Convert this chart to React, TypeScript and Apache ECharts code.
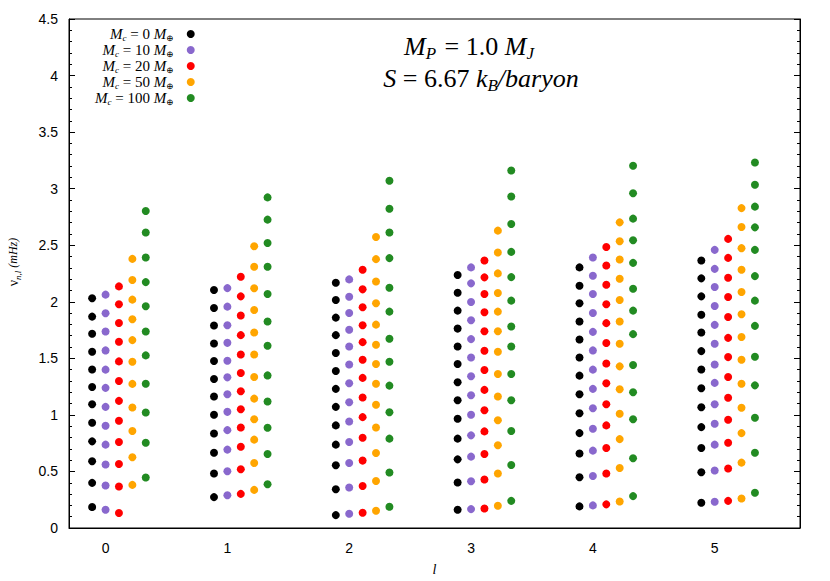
import React, { useEffect, useRef } from 'react';
import * as echarts from 'echarts';

// Angular degree l (x categories)
const L_VALUES = [0, 1, 2, 3, 4, 5];
// Core masses (Earth masses) for each series
const CORE_MASSES = [0, 10, 20, 50, 100];
const SERIES_COLORS = ['#000000', '#8968cd', '#ff0000', '#ffa500', '#228b22'];
// horizontal offset of each series around its l value
const X_OFFSETS = [-0.11, 0, 0.11, 0.22, 0.33];

// Frequencies nu_{n,l} (mHz), one list per l
const mc0 = [
  [2.031, 1.869, 1.717, 1.558, 1.402, 1.247, 1.094, 0.93, 0.766, 0.59, 0.399, 0.185],
  [2.104, 1.945, 1.79, 1.631, 1.476, 1.318, 1.162, 1.001, 0.836, 0.666, 0.482, 0.273],
  [2.168, 2.016, 1.86, 1.705, 1.547, 1.388, 1.23, 1.071, 0.907, 0.737, 0.555, 0.343, 0.114],
  [2.236, 2.08, 1.922, 1.763, 1.605, 1.45, 1.288, 1.129, 0.966, 0.79, 0.607, 0.402, 0.161],
  [2.304, 2.142, 1.987, 1.825, 1.666, 1.508, 1.347, 1.182, 1.015, 0.839, 0.658, 0.449, 0.191],
  [2.365, 2.207, 2.048, 1.886, 1.728, 1.564, 1.402, 1.235, 1.068, 0.892, 0.707, 0.493, 0.223],
];
const mc10 = [
  [2.063, 1.899, 1.737, 1.57, 1.4, 1.239, 1.071, 0.904, 0.737, 0.561, 0.376, 0.161],
  [2.121, 1.957, 1.793, 1.637, 1.479, 1.332, 1.182, 1.027, 0.865, 0.693, 0.502, 0.29],
  [2.198, 2.045, 1.901, 1.752, 1.605, 1.446, 1.279, 1.112, 0.942, 0.76, 0.575, 0.358, 0.126],
  [2.304, 2.163, 1.998, 1.837, 1.67, 1.508, 1.341, 1.173, 1.001, 0.819, 0.631, 0.414, 0.167],
  [2.392, 2.23, 2.069, 1.901, 1.734, 1.57, 1.4, 1.23, 1.059, 0.878, 0.684, 0.46, 0.2],
  [2.459, 2.291, 2.13, 1.963, 1.796, 1.629, 1.446, 1.283, 1.094, 0.922, 0.737, 0.508, 0.232],
];
const mc20 = [
  [2.136, 1.978, 1.813, 1.646, 1.473, 1.3, 1.124, 0.948, 0.76, 0.566, 0.367, 0.132],
  [2.221, 2.048, 1.878, 1.705, 1.534, 1.371, 1.209, 1.05, 0.889, 0.719, 0.519, 0.302],
  [2.283, 2.11, 1.952, 1.793, 1.643, 1.488, 1.327, 1.153, 0.98, 0.798, 0.596, 0.372, 0.135],
  [2.365, 2.216, 2.069, 1.908, 1.74, 1.567, 1.397, 1.221, 1.041, 0.854, 0.654, 0.429, 0.173],
  [2.485, 2.321, 2.151, 1.978, 1.811, 1.635, 1.455, 1.279, 1.094, 0.907, 0.707, 0.482, 0.209],
  [2.556, 2.388, 2.212, 2.042, 1.866, 1.681, 1.511, 1.335, 1.151, 0.957, 0.754, 0.526, 0.24],
];
const mc50 = [
  [2.379, 2.192, 2.019, 1.846, 1.661, 1.47, 1.274, 1.065, 0.857, 0.625, 0.381],
  [2.491, 2.309, 2.119, 1.928, 1.728, 1.534, 1.335, 1.144, 0.962, 0.781, 0.575, 0.337],
  [2.573, 2.377, 2.18, 1.987, 1.798, 1.62, 1.45, 1.276, 1.089, 0.889, 0.663, 0.416, 0.152],
  [2.629, 2.436, 2.251, 2.077, 1.913, 1.74, 1.558, 1.362, 1.162, 0.953, 0.731, 0.482, 0.196],
  [2.702, 2.535, 2.374, 2.203, 2.016, 1.825, 1.629, 1.429, 1.226, 1.01, 0.786, 0.531, 0.235],
  [2.828, 2.661, 2.474, 2.283, 2.086, 1.89, 1.688, 1.488, 1.276, 1.063, 0.839, 0.578, 0.261],
];
const mc100 = [
  [2.802, 2.612, 2.392, 2.174, 1.96, 1.737, 1.526, 1.276, 1.021, 0.754, 0.446],
  [2.923, 2.726, 2.52, 2.309, 2.069, 1.825, 1.611, 1.349, 1.118, 0.886, 0.654, 0.387],
  [3.07, 2.823, 2.612, 2.386, 2.124, 1.913, 1.673, 1.47, 1.259, 1.024, 0.79, 0.49, 0.188],
  [3.16, 2.931, 2.688, 2.441, 2.218, 2.01, 1.781, 1.605, 1.362, 1.129, 0.857, 0.557, 0.24],
  [3.202, 2.96, 2.735, 2.544, 2.344, 2.115, 1.922, 1.714, 1.441, 1.2, 0.962, 0.616, 0.282],
  [3.231, 3.034, 2.841, 2.658, 2.459, 2.227, 2.01, 1.787, 1.514, 1.261, 0.974, 0.666, 0.311],
];
const ALL_SERIES = [mc0, mc10, mc20, mc50, mc100];

const Y_MIN = 0;
const Y_MAX = 4.5;
const Y_INTERVAL = 0.5;
const X_LABELS = L_VALUES;

const SERIF = '"Liberation Serif", "DejaVu Serif", serif';
const SANS = '"Liberation Sans", Arial, sans-serif';

function richSet(F: number, f: number, pad: number, lh?: number, extraRight = 0, subRight = 0) {
  const base: any = { fontFamily: SERIF, color: '#000', verticalAlign: 'top' };
  const r: any = {
    i: { ...base, fontSize: F, fontStyle: 'italic' },
    n: { ...base, fontSize: F },
    s: { ...base, fontSize: f, fontStyle: 'italic', padding: [pad, subRight, 0, 0] },
    e: { ...base, fontSize: f, padding: [pad, extraRight, 0, 0] },
  };
  if (lh) {
    Object.keys(r).forEach((k) => (r[k].lineHeight = lh));
  }
  return r;
}

export default function App() {
  const ref = useRef<HTMLDivElement>(null);
  useEffect(() => {
    const chart = echarts.init(ref.current!, null, { renderer: 'svg' });
    const names = CORE_MASSES.map((m) => `Mc = ${m} M⊕`);
    const series = ALL_SERIES.map((vals, s) => ({
      name: names[s],
      type: 'scatter',
      symbol: 'circle',
      symbolSize: 8,
      itemStyle: { color: SERIES_COLORS[s], opacity: 1 },
      data: vals.flatMap((list, i) => list.map((v) => [L_VALUES[i] + X_OFFSETS[s], v])),
      xAxisIndex: 0,
      yAxisIndex: 0,
    }));
    const yAxisBase: any = {
      type: 'value',
      min: Y_MIN,
      max: Y_MAX,
      interval: Y_INTERVAL,
      axisLine: { show: true, onZero: false, lineStyle: { color: '#000', width: 1 } },
      axisTick: { show: true, inside: true, length: 6, lineStyle: { color: '#000' } },
      minorTick: { show: true, splitNumber: 5, length: 3, lineStyle: { color: '#000' } },
      splitLine: { show: false },
      minorSplitLine: { show: false },
    };
    const titleRich1 = richSet(26, 17, 12, 24, 0, 2);
    const titleRich2 = richSet(26, 17, 12, 24);
    const option: any = {
      animation: false,
      backgroundColor: '#fff',
      grid: { left: 69, right: 30, top: 19, bottom: 53, show: true, borderColor: '#000', borderWidth: 1 },
      xAxis: {
        type: 'value',
        min: -0.3,
        max: 5.7,
        axisLine: { show: true, onZero: false, lineStyle: { color: '#000', width: 1 } },
        axisTick: { show: false },
        splitLine: { show: false },
        axisLabel: {
          customValues: X_LABELS,
          color: '#000',
          fontSize: 14,
          fontFamily: SANS,
          margin: 13,
        },
        name: 'l',
        nameLocation: 'middle',
        nameGap: 34,
        nameTextStyle: { fontFamily: SERIF, fontStyle: 'italic', fontSize: 14, color: '#000' },
      },
      yAxis: [
        {
          ...yAxisBase,
          position: 'left',
          axisLabel: { color: '#000', fontSize: 14, fontFamily: SANS, margin: 11 },
        },
        {
          ...yAxisBase,
          position: 'right',
          axisLabel: { show: false },
        },
      ],
      legend: {
        orient: 'vertical',
        left: 95,
        top: 26,
        align: 'right',
        icon: 'circle',
        itemWidth: 8,
        itemHeight: 8,
        itemGap: 0,
        padding: 0,
        data: names,
        formatter: (name: string) => {
          const idx = names.indexOf(name);
          return `{i|M}{s|c}{n| = ${CORE_MASSES[idx]} }{i|M}{e|⊕}`;
        },
        textStyle: { rich: richSet(15, 9, 7, 16, 8) },
      },
      graphic: [
        {
          type: 'text',
          x: 470,
          y: 33,
          style: {
            text: '{i|M}{s|P}{n| = 1.0 }{i|M}{s|J}',
            align: 'center',
            verticalAlign: 'top',
            rich: titleRich1,
          },
        },
        {
          type: 'text',
          x: 481,
          y: 65,
          style: {
            text: '{i|S}{n| = 6.67 }{i|k}{s|B}{i|/baryon}',
            align: 'center',
            verticalAlign: 'top',
            rich: titleRich2,
          },
        },
        {
          type: 'text',
          x: 14,
          y: 262,
          rotation: Math.PI / 2,
          style: {
            text: '{n|ν}{s|n,l}{m| (mHz)}',
            align: 'center',
            verticalAlign: 'middle',
            rich: {
              n: { fontFamily: SERIF, fontSize: 14, color: '#000', verticalAlign: 'top' },
              s: { fontFamily: SERIF, fontSize: 9, fontStyle: 'italic', color: '#000', verticalAlign: 'top', padding: [7, 0, 0, 0] },
              m: { fontFamily: SERIF, fontSize: 12, fontStyle: 'italic', color: '#000', verticalAlign: 'top', padding: [1, 0, 0, 0] },
            },
          },
        },
      ],
      series,
    };
    chart.setOption(option);
    return () => chart.dispose();
  }, []);
  return (
    <div
      ref={ref}
      style={{ position: 'absolute', left: 0, top: 0, width: 830, height: 581, background: '#fff' }}
    />
  );
}
